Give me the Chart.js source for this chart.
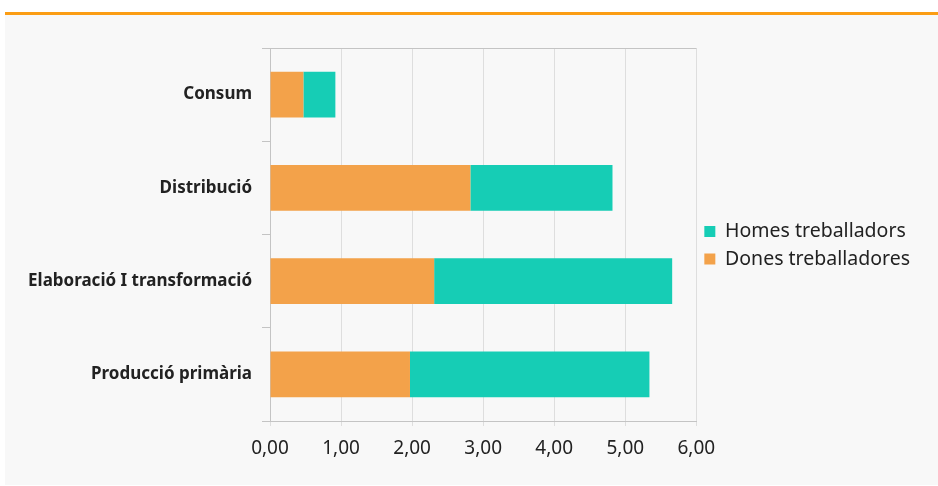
<!DOCTYPE html>
<html>
<head>
<meta charset="utf-8">
<script src="https://cdn.jsdelivr.net/npm/chart.js@4"></script>
<style>
  html, body { margin: 0; padding: 0; background: #fff; }
  #topLine { position: absolute; left: 5px; top: 12px; width: 933px; height: 3px; background: #fb9d14; }
  #panel { position: absolute; left: 5px; top: 15px; width: 933px; height: 470px; background: #f8f8f8; }
  canvas { display: block; }
</style>
</head>
<body>
<div id="topLine"></div>
<div id="panel"><canvas id="chart" width="933" height="470"></canvas></div>
<script>
const categories = ["Consum", "Distribució", "Elaboració I transformació", "Producció primària"];
const dones = [0.47, 2.82, 2.31, 1.97];
const homes = [0.45, 2.00, 3.35, 3.37];
const xTicks = [0, 1, 2, 3, 4, 5, 6];

const gridColor = "#dedede";
const axisColor = "#c4c4c4";

new Chart(document.getElementById("chart").getContext("2d"), {
    type: "bar",
    data: {
        labels: categories,
        datasets: [
            { label: "Dones treballadores", data: dones, backgroundColor: "#f3a24a" },
            { label: "Homes treballadors", data: homes, backgroundColor: "#16cdb5" }
        ]
    },
    options: {
        indexAxis: "y",
        responsive: false,
        animation: false,
        categoryPercentage: 1,
        barPercentage: 0.49,
        layout: { padding: { top: 33, left: 0, right: 18, bottom: 24 } },
        plugins: {
            tooltip: { enabled: false },
            legend: {
                position: "right",
                fullSize: false,
                reverse: true,
                // empty title just pushes the items down a bit
                title: { display: true, text: "", padding: 0, font: { size: 18 } },
                labels: {
                    boxWidth: 11,
                    boxHeight: 11,
                    padding: 8,
                    color: "#222",
                    font: { family: "Noto Sans", size: 19.5 }
                }
            }
        },
        scales: {
            x: {
                stacked: true,
                min: 0,
                max: 6,
                afterBuildTicks: s => { s.ticks = xTicks.map(v => ({ value: v })); },
                afterFit: s => { s.height = 40; },
                grid: { color: gridColor, tickLength: 5, tickColor: gridColor },
                border: { color: axisColor },
                ticks: {
                    padding: 11,
                    color: "#222",
                    font: { family: "Noto Sans", size: 19 },
                    callback: v => v.toFixed(2).replace(".", ",")
                }
            },
            y: {
                stacked: true,
                afterFit: s => { s.width = 265; },
                grid: {
                    offset: true,
                    tickLength: 8,
                    tickColor: axisColor,
                    color: ctx => ctx.index === 0 ? axisColor : "rgba(0,0,0,0)"
                },
                border: { color: axisColor },
                ticks: {
                    padding: 10,
                    color: "#222",
                    font: { family: "Noto Sans", size: 17, weight: "bold" }
                }
            }
        }
    }
});
</script>
</body>
</html>
